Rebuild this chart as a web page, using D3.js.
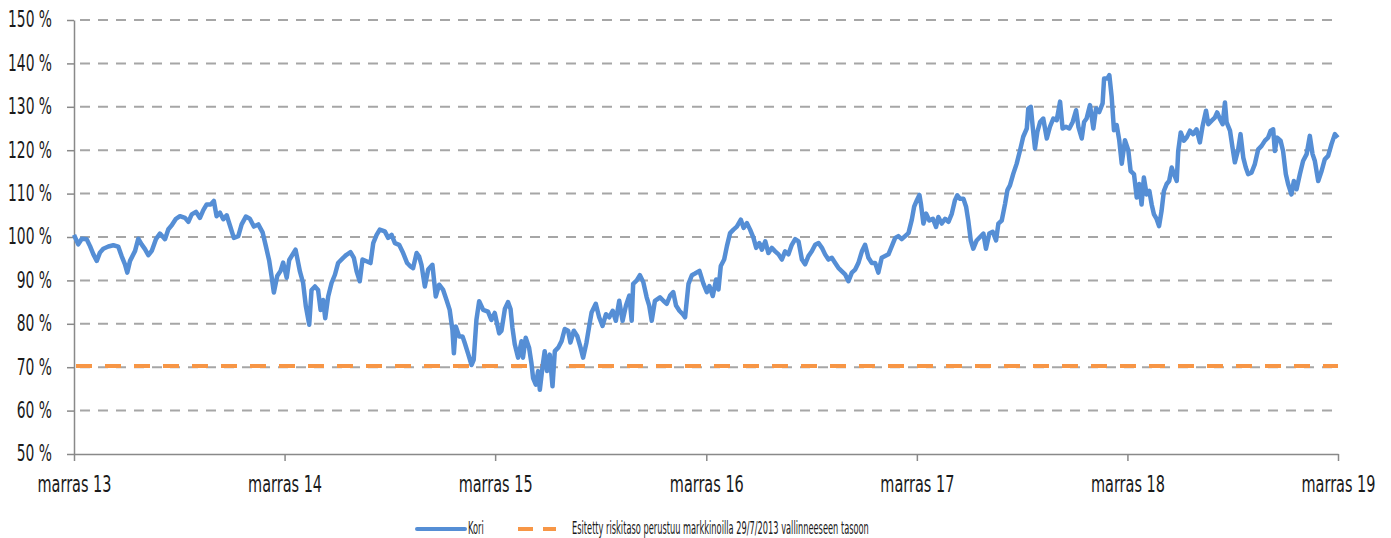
<!DOCTYPE html>
<html>
<head>
<meta charset="utf-8">
<script src="https://cdn.jsdelivr.net/npm/d3@7"></script>
<style>
  body { margin: 0; background: #fff; }
  text { font-family: 'Liberation Sans Narrow', 'DejaVu Sans Condensed', 'Liberation Sans', sans-serif; fill: #1a1a1a; }
</style>
</head>
<body>
<div id="container"></div>
<script>
// decimal year, value in %
const kori = [
  [2013.833,100.5],[2013.853,98.3],[2013.870,99.6],[2013.893,99.5],[2013.909,97.9],[2013.925,96.0],[2013.941,94.5],[2013.956,96.4],[2013.972,97.3],[2013.996,97.8],
  [2014.020,98.1],[2014.043,97.8],[2014.059,95.6],[2014.075,93.7],[2014.086,91.8],[2014.099,94.5],[2014.123,96.8],[2014.138,99.6],[2014.154,98.3],[2014.170,97.2],
  [2014.186,95.8],[2014.202,96.8],[2014.222,99.5],[2014.241,100.8],[2014.265,99.5],[2014.281,101.8],[2014.297,102.7],[2014.317,104.2],[2014.336,104.8],[2014.360,104.4],
  [2014.376,103.5],[2014.392,105.2],[2014.412,105.8],[2014.431,104.4],[2014.447,106.2],[2014.463,107.5],[2014.482,107.5],[2014.497,108.3],[2014.510,104.8],[2014.526,105.6],
  [2014.542,104.1],[2014.558,105.0],[2014.573,102.7],[2014.592,99.8],[2014.613,100.2],[2014.629,102.9],[2014.649,104.7],[2014.668,104.2],[2014.687,102.4],[2014.708,102.9],
  [2014.729,101.0],[2014.744,97.9],[2014.760,94.5],[2014.771,91.0],[2014.782,87.2],[2014.798,91.0],[2014.814,92.2],[2014.826,94.1],[2014.843,90.6],[2014.855,94.7],
  [2014.885,97.1],[2014.906,92.0],[2014.921,89.4],[2014.934,84.0],[2014.950,79.8],[2014.961,87.8],[2014.977,88.6],[2014.992,87.8],[2015.004,83.2],[2015.016,85.5],
  [2015.026,81.3],[2015.040,86.3],[2015.056,89.4],[2015.072,91.3],[2015.087,94.0],[2015.111,95.2],[2015.127,95.9],[2015.146,96.5],[2015.162,95.2],[2015.175,92.1],
  [2015.190,89.8],[2015.203,94.8],[2015.222,94.4],[2015.241,94.0],[2015.254,98.6],[2015.270,100.5],[2015.285,101.7],[2015.309,101.3],[2015.325,99.8],[2015.341,100.5],
  [2015.357,98.6],[2015.377,98.2],[2015.396,96.3],[2015.415,94.0],[2015.431,93.2],[2015.443,92.8],[2015.460,96.3],[2015.472,95.5],[2015.483,93.6],[2015.499,88.6],
  [2015.515,92.5],[2015.535,93.6],[2015.551,86.3],[2015.567,89.0],[2015.586,87.8],[2015.602,85.5],[2015.617,83.2],[2015.630,78.6],[2015.637,73.2],[2015.646,79.4],
  [2015.662,77.1],[2015.678,77.1],[2015.689,75.5],[2015.704,73.2],[2015.721,70.5],[2015.731,71.7],[2015.744,80.9],[2015.757,85.2],[2015.776,83.2],[2015.799,82.8],
  [2015.815,80.9],[2015.831,82.5],[2015.852,77.8],[2015.863,78.4],[2015.879,83.4],[2015.894,85.0],[2015.906,83.4],[2015.915,79.1],[2015.926,75.3],[2015.942,72.2],
  [2015.958,76.0],[2015.965,72.2],[2015.978,76.8],[2015.994,74.5],[2016.005,71.0],[2016.013,67.5],[2016.026,66.0],[2016.037,69.1],[2016.045,64.8],[2016.058,70.2],
  [2016.068,73.7],[2016.079,69.1],[2016.092,72.9],[2016.105,65.6],[2016.116,73.7],[2016.132,74.5],[2016.148,76.0],[2016.163,78.8],[2016.179,78.4],[2016.190,75.7],
  [2016.206,78.4],[2016.222,77.2],[2016.238,74.5],[2016.250,72.2],[2016.266,75.7],[2016.279,79.5],[2016.290,82.6],[2016.310,84.6],[2016.326,81.5],[2016.342,79.5],
  [2016.358,82.2],[2016.374,81.5],[2016.390,83.0],[2016.405,80.7],[2016.421,85.3],[2016.437,80.7],[2016.453,84.2],[2016.469,86.5],[2016.480,80.7],[2016.487,89.2],
  [2016.504,90.0],[2016.519,91.2],[2016.535,89.6],[2016.551,86.1],[2016.563,84.2],[2016.575,80.7],[2016.590,85.3],[2016.614,86.1],[2016.630,85.3],[2016.646,84.6],
  [2016.662,86.5],[2016.677,87.3],[2016.690,84.2],[2016.706,83.0],[2016.722,82.2],[2016.733,81.5],[2016.749,89.2],[2016.765,91.2],[2016.780,91.6],[2016.801,92.2],
  [2016.820,89.2],[2016.836,87.3],[2016.848,88.7],[2016.864,86.4],[2016.880,90.2],[2016.891,87.9],[2016.902,93.3],[2016.918,94.8],[2016.931,97.9],[2016.946,100.9],
  [2016.962,101.7],[2016.978,102.4],[2016.997,104.0],[2017.010,102.1],[2017.026,103.2],[2017.041,101.7],[2017.057,99.8],[2017.070,97.5],[2017.085,98.6],[2017.097,97.1],
  [2017.113,99.0],[2017.128,96.3],[2017.144,97.5],[2017.160,96.7],[2017.176,96.0],[2017.192,94.8],[2017.207,96.7],[2017.223,96.0],[2017.239,98.2],[2017.255,99.5],
  [2017.271,99.0],[2017.287,94.8],[2017.302,93.7],[2017.318,95.6],[2017.334,96.7],[2017.350,98.2],[2017.366,98.6],[2017.382,97.5],[2017.397,96.0],[2017.413,94.8],
  [2017.429,95.2],[2017.445,94.0],[2017.460,92.9],[2017.477,92.1],[2017.492,91.4],[2017.508,89.8],[2017.524,91.8],[2017.540,92.5],[2017.555,94.0],[2017.572,96.7],
  [2017.587,98.2],[2017.603,95.2],[2017.619,94.0],[2017.635,94.0],[2017.650,91.8],[2017.666,95.2],[2017.682,95.6],[2017.698,96.0],[2017.714,97.9],[2017.730,99.8],
  [2017.745,100.2],[2017.761,99.5],[2017.777,100.2],[2017.793,100.9],[2017.809,104.0],[2017.820,107.0],[2017.833,108.5],[2017.845,109.7],
  [2017.852,107.7],[2017.864,103.1],[2017.877,105.4],[2017.892,103.8],[2017.909,104.2],[2017.924,102.3],[2017.935,104.6],[2017.951,103.1],[2017.967,104.2],[2017.983,103.5],
  [2017.999,105.4],[2018.014,108.5],[2018.025,109.6],[2018.038,108.8],[2018.054,108.8],[2018.067,106.9],[2018.077,103.8],[2018.089,99.2],[2018.101,97.3],[2018.117,99.2],
  [2018.133,100.0],[2018.149,100.8],[2018.161,97.3],[2018.177,100.8],[2018.193,101.2],[2018.209,99.2],[2018.220,103.1],[2018.236,103.8],[2018.252,107.7],[2018.263,110.8],
  [2018.275,111.9],[2018.291,114.6],[2018.307,116.9],[2018.323,120.0],[2018.338,123.1],[2018.355,125.0],[2018.362,129.6],[2018.374,130.0],[2018.383,125.4],[2018.394,120.4],
  [2018.405,124.2],[2018.418,126.5],[2018.433,127.3],[2018.450,122.7],[2018.465,125.4],[2018.481,127.3],[2018.497,126.9],[2018.513,131.2],[2018.525,125.0],[2018.541,125.4],
  [2018.557,125.0],[2018.573,126.5],[2018.589,129.2],[2018.600,125.4],[2018.616,122.7],[2018.627,126.5],[2018.639,127.3],[2018.655,130.4],[2018.671,125.0],[2018.684,129.6],
  [2018.699,128.8],[2018.715,130.8],[2018.722,136.5],[2018.737,136.5],[2018.747,137.3],[2018.758,132.3],[2018.769,124.6],[2018.782,125.8],[2018.794,122.3],[2018.806,116.9],
  [2018.821,122.3],[2018.837,120.0],
  [2018.848,115.2],[2018.864,114.5],[2018.877,109.1],[2018.889,112.2],[2018.900,107.5],[2018.911,113.7],[2018.924,109.8],[2018.937,110.6],[2018.948,107.5],[2018.959,105.2],
  [2018.972,104.1],[2018.983,102.5],[2018.995,106.0],[2019.006,110.6],[2019.019,112.2],[2019.031,112.9],[2019.043,116.0],[2019.054,114.5],[2019.067,112.9],[2019.074,119.8],
  [2019.086,124.1],[2019.101,122.2],[2019.114,122.9],[2019.130,124.5],[2019.145,123.7],[2019.161,124.8],[2019.177,121.8],[2019.190,125.6],[2019.206,129.1],[2019.217,126.0],
  [2019.233,126.8],[2019.248,127.5],[2019.259,128.7],[2019.272,127.2],[2019.285,126.0],[2019.296,131.0],[2019.304,126.4],[2019.320,124.5],[2019.332,120.6],[2019.343,117.2],
  [2019.359,120.2],[2019.370,123.7],[2019.383,118.3],[2019.395,116.0],[2019.406,114.5],[2019.422,114.8],[2019.438,116.8],[2019.454,120.2],[2019.470,121.0],[2019.486,122.2],
  [2019.501,122.9],[2019.513,124.5],[2019.525,124.8],[2019.533,119.8],[2019.544,122.9],[2019.560,122.2],[2019.572,119.8],[2019.585,114.5],[2019.596,112.2],[2019.612,109.8],
  [2019.623,112.9],[2019.636,111.0],[2019.652,114.5],[2019.667,117.5],[2019.684,119.1],[2019.699,123.3],[2019.712,119.1],[2019.723,117.5],[2019.739,112.9],[2019.755,115.2],
  [2019.770,117.9],[2019.786,118.7],[2019.802,121.4],[2019.818,123.7],[2019.832,122.9]
];
const riskLevel = 70.3;
const yTicks = [50, 60, 70, 80, 90, 100, 110, 120, 130, 140, 150];
const xTickYears = [2013, 2014, 2015, 2016, 2017, 2018, 2019];
const xTickLabels = ['marras 13', 'marras 14', 'marras 15', 'marras 16', 'marras 17', 'marras 18', 'marras 19'];
const legendLabels = ['Kori', 'Esitetty riskitaso perustuu markkinoilla 29/7/2013 vallinneeseen tasoon'];

const W = 1391, H = 538;
const margin = { top: 20, right: 53, bottom: 84, left: 74 };
// the original font is very narrow, squeeze the glyphs
const ySx = 0.67, xSx = 0.7, legSx = 0.54;

const toDate = yr => {
  const y = Math.floor(yr);
  const a = new Date(y, 0, 1), b = new Date(y + 1, 0, 1);
  return new Date(+a + (yr - y) * (b - a));
};

const svg = d3.select('#container').append('svg')
  .attr('width', W).attr('height', H);

const x = d3.scaleTime()
  .domain([new Date(2013, 10, 1), new Date(2019, 10, 1)])
  .range([margin.left, W - margin.right]);
const y = d3.scaleLinear()
  .domain([50, 150])
  .range([H - margin.bottom, margin.top]);

// grid
svg.append('g').selectAll('line')
  .data(yTicks.filter(d => d > 50)).enter()
  .append('line')
  .attr('x1', x.range()[0]).attr('x2', x.range()[1])
  .attr('y1', d => y(d)).attr('y2', d => y(d))
  .attr('stroke', '#a6a6a6').attr('stroke-width', 2)
  .attr('stroke-dasharray', '10,8').attr('stroke-dashoffset', 12);

// y axis
const yAxis = svg.append('g')
  .attr('transform', `translate(${margin.left},0)`)
  .call(d3.axisLeft(y).tickValues(yTicks).tickSize(7).tickSizeOuter(0).tickFormat(d => d + ' %'));
yAxis.select('.domain').attr('stroke', '#898989').attr('stroke-width', 1.5);
yAxis.selectAll('.tick line').attr('stroke', '#898989').attr('stroke-width', 1.5);
yAxis.selectAll('.tick text')
  .attr('x', -22 / ySx).attr('dy', '0.3em')
  .attr('transform', `scale(${ySx},1)`)
  .style('font-size', '23px');

// x axis
const xAxis = svg.append('g')
  .attr('transform', `translate(0,${y(50)})`)
  .call(d3.axisBottom(x).tickValues(xTickYears.map(yr => new Date(yr, 10, 1)))
    .tickSize(7).tickSizeOuter(0).tickFormat((d, i) => xTickLabels[i]));
xAxis.select('.domain').attr('stroke', '#898989').attr('stroke-width', 1.5);
xAxis.selectAll('.tick line').attr('stroke', '#898989').attr('stroke-width', 1.5);
xAxis.selectAll('.tick text')
  .attr('y', 38).attr('dy', 0)
  .attr('transform', `scale(${xSx},1)`)
  .style('font-size', '23px');
svg.selectAll('.tick text').attr('fill', '#1a1a1a');

// risk level
svg.append('line')
  .attr('x1', x.range()[0] + 2).attr('x2', x.range()[1])
  .attr('y1', y(riskLevel)).attr('y2', y(riskLevel))
  .attr('stroke', '#f79646').attr('stroke-width', 4)
  .attr('stroke-dasharray', '16,13');

// kori
const line = d3.line()
  .x(d => x(toDate(d[0])))
  .y(d => y(d[1]));
svg.append('path')
  .datum(kori)
  .attr('d', line)
  .attr('fill', 'none')
  .attr('stroke', '#558ed5')
  .attr('stroke-width', 4.5)
  .attr('stroke-linejoin', 'round');

// legend
const legend = svg.append('g').attr('transform', 'translate(0,529)');
legend.append('line')
  .attr('x1', 417).attr('x2', 465).attr('y1', 0).attr('y2', 0)
  .attr('stroke', '#558ed5').attr('stroke-width', 4).attr('stroke-linecap', 'round');
legend.append('text')
  .attr('transform', `translate(468,5) scale(${legSx},1)`)
  .style('font-size', '17px')
  .text(legendLabels[0]);
legend.append('line')
  .attr('x1', 518).attr('x2', 556).attr('y1', 0).attr('y2', 0)
  .attr('stroke', '#f79646').attr('stroke-width', 4).attr('stroke-dasharray', '15,10');
legend.append('text')
  .attr('transform', `translate(572,5) scale(${legSx},1)`)
  .style('font-size', '17px')
  .text(legendLabels[1]);
</script>
</body>
</html>
